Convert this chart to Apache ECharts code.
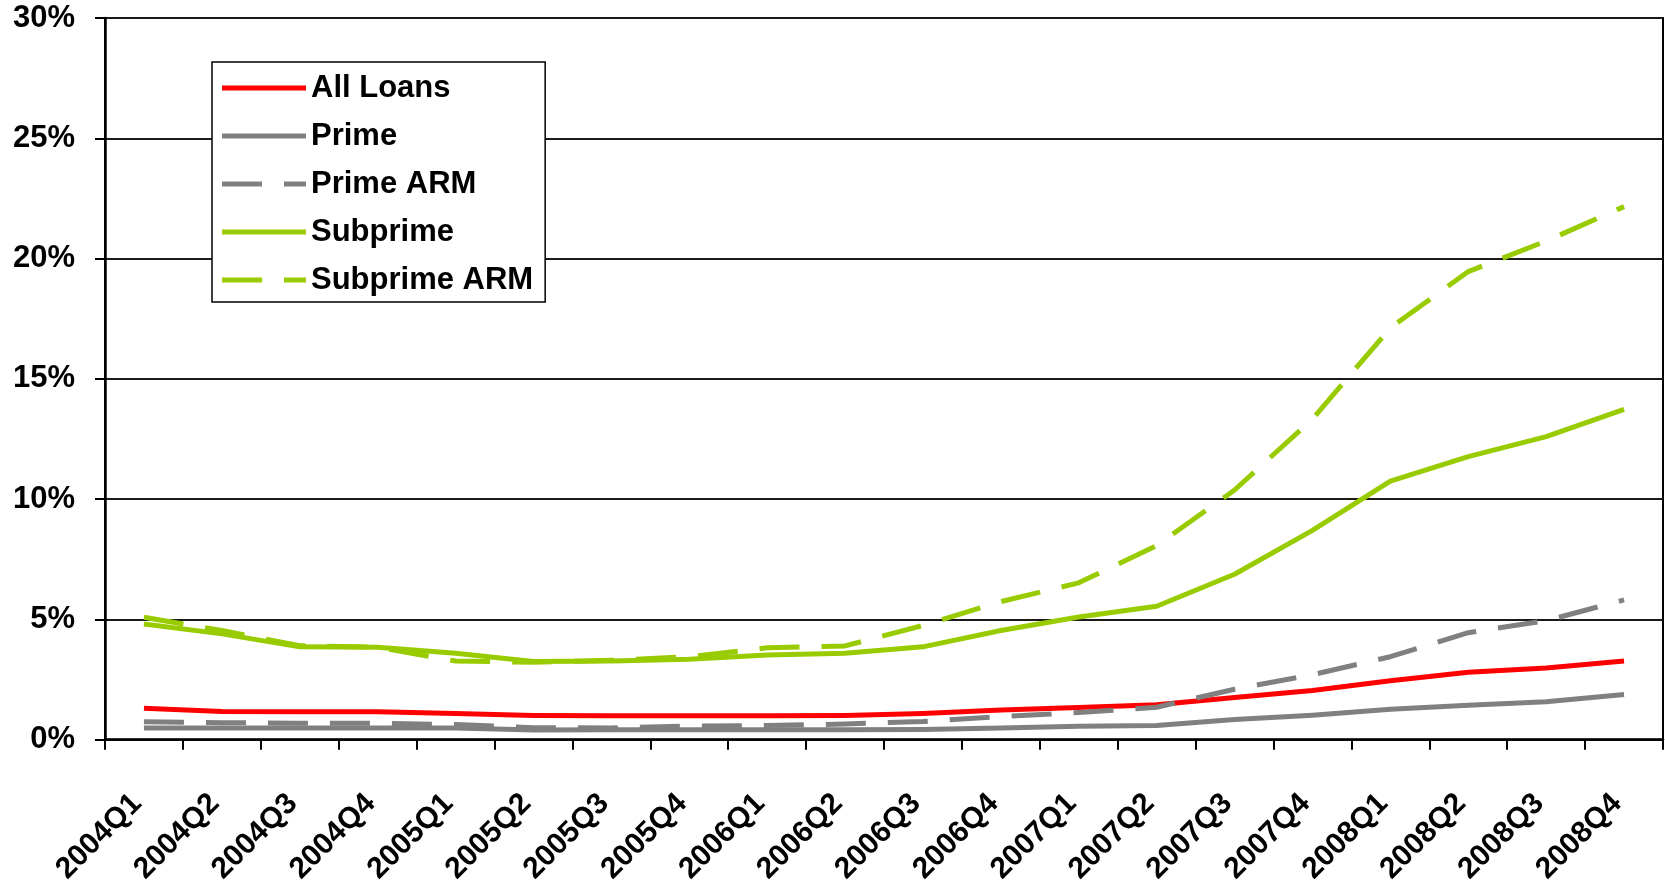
<!DOCTYPE html>
<html>
<head>
<meta charset="utf-8">
<title>Delinquency rates by loan type</title>
<script src="https://cdn.jsdelivr.net/npm/echarts@6/dist/echarts.min.js"></script>
<style>
  html, body { margin: 0; padding: 0; background: #fff; }
  #chart { width: 1665px; height: 887px; }
</style>
</head>
<body>
<div id="chart"></div>
<script>
// Quarters on the category axis
const quarters = [
  '2004Q1', '2004Q2', '2004Q3', '2004Q4',
  '2005Q1', '2005Q2', '2005Q3', '2005Q4',
  '2006Q1', '2006Q2', '2006Q3', '2006Q4',
  '2007Q1', '2007Q2', '2007Q3', '2007Q4',
  '2008Q1', '2008Q2', '2008Q3', '2008Q4'
];

// Rates in percent, one value per quarter
const allLoans = [1.31, 1.17, 1.16, 1.16, 1.09, 1.01, 1.00, 1.00, 1.00, 1.01,
                  1.09, 1.23, 1.34, 1.45, 1.75, 2.05, 2.45, 2.80, 2.98, 3.27];
const prime = [0.49, 0.49, 0.49, 0.49, 0.49, 0.40, 0.41, 0.41, 0.41, 0.41,
               0.42, 0.49, 0.56, 0.59, 0.84, 1.02, 1.27, 1.43, 1.58, 1.88];
const primeArm = [0.75, 0.71, 0.68, 0.68, 0.63, 0.50, 0.49, 0.57, 0.59, 0.65,
                  0.76, 0.96, 1.13, 1.35, 2.10, 2.70, 3.45, 4.45, 4.95, 5.81];
const subprime = [4.81, 4.40, 3.86, 3.84, 3.59, 3.25, 3.27, 3.34, 3.52, 3.59,
                  3.86, 4.54, 5.10, 5.55, 6.88, 8.70, 10.75, 11.77, 12.60, 13.73];
const subprimeArm = [5.09, 4.54, 3.91, 3.84, 3.27, 3.22, 3.30, 3.45, 3.82, 3.90,
                     4.75, 5.74, 6.52, 8.07, 10.38, 13.33, 17.12, 19.46, 20.73, 22.16];

// Value axis ticks
const yMin = 0, yMax = 30, yStep = 5;

const FONT = '"Liberation Sans", Arial, Helvetica, sans-serif';
const RED = '#ff0000', GREY = '#808080', GREEN = '#99cc00';
const DASH = [40, 22];
const LINE_W = 5;

// Legend keys drawn as 84x5 bars: plain for solid series, dash-gap-dash for dashed ones
const SOLID_ICON = 'path://M0 0H84V5H0Z';
const DASHED_ICON = 'path://M0 0H40V5H0Z M62 0H84V5H62Z';

function line(name, data, color, dashed) {
  return {
    name: name,
    type: 'line',
    data: data,
    symbol: 'none',
    smooth: false,
    animation: false,
    lineStyle: {
      color: color,
      width: LINE_W,
      type: dashed ? DASH : 'solid',
      cap: 'butt',
      join: 'round'
    },
    itemStyle: { color: color }
  };
}

const chart = echarts.init(document.getElementById('chart'), null, { renderer: 'canvas' });

chart.setOption({
  backgroundColor: '#fff',
  animation: false,
  grid: {
    left: 105, right: 2, top: 18, bottom: 136,
    show: true, borderColor: '#000', borderWidth: 2,
    containLabel: false
  },
  legend: {
    orient: 'vertical',
    left: 212, top: 62,
    backgroundColor: '#fff',
    borderColor: '#000', borderWidth: 1.5,
    padding: [8, 12, 4, 10],
    itemGap: 12,
    itemWidth: 84,
    itemHeight: LINE_W,
    itemStyle: { borderWidth: 0 },
    lineStyle: { width: 0 },
    textStyle: {
      fontFamily: FONT, fontSize: 31, fontWeight: 'bold',
      color: '#000', lineHeight: 36
    },
    data: [
      { name: 'All Loans', icon: SOLID_ICON },
      { name: 'Prime', icon: SOLID_ICON },
      { name: 'Prime ARM', icon: DASHED_ICON },
      { name: 'Subprime', icon: SOLID_ICON },
      { name: 'Subprime ARM', icon: DASHED_ICON }
    ]
  },
  xAxis: {
    type: 'category',
    data: quarters,
    boundaryGap: true,
    axisLine: { show: true, lineStyle: { color: '#000', width: 2.5 } },
    axisTick: { show: true, inside: false, length: 10, interval: 0,
                lineStyle: { color: '#000', width: 2 } },
    axisLabel: {
      interval: 0, rotate: 45, margin: 52,
      padding: [0, 10, 0, 0],
      fontFamily: FONT, fontSize: 30, fontWeight: 'bold', color: '#000'
    },
    splitLine: { show: false }
  },
  yAxis: {
    type: 'value',
    min: yMin, max: yMax, interval: yStep,
    axisLine: { show: true, lineStyle: { color: '#000', width: 2.5 } },
    axisTick: { show: true, inside: false, length: 10,
                lineStyle: { color: '#000', width: 2 } },
    axisLabel: {
      margin: 30,
      formatter: '{value}%',
      fontFamily: FONT, fontSize: 31, fontWeight: 'bold', color: '#000'
    },
    splitLine: { show: true, lineStyle: { color: '#1a1a1a', width: 2 } }
  },
  series: [
    line('All Loans', allLoans, RED, false),
    line('Prime', prime, GREY, false),
    line('Prime ARM', primeArm, GREY, true),
    line('Subprime', subprime, GREEN, false),
    line('Subprime ARM', subprimeArm, GREEN, true)
  ]
});
</script>
</body>
</html>
